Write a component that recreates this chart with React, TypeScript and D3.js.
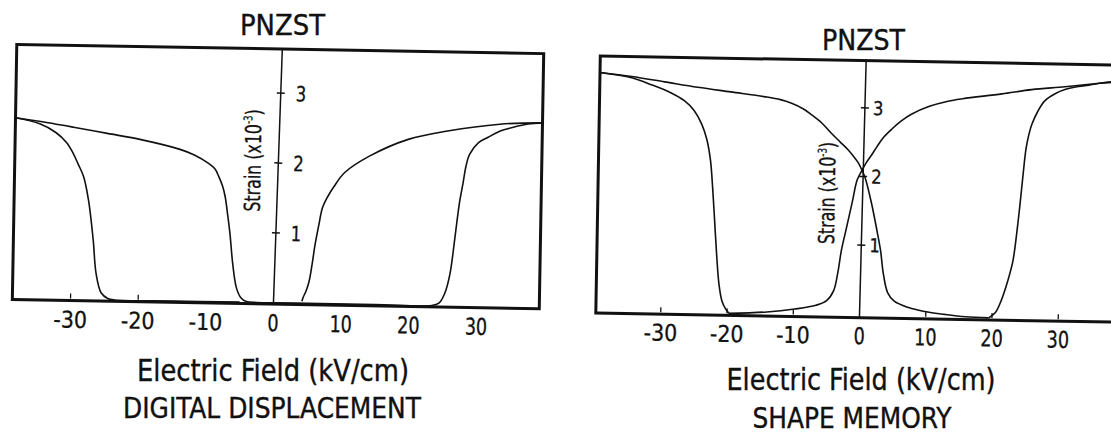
import React, { useEffect, useRef } from 'react';
import * as d3 from 'd3';

type Pt = [number, number];

// strain (x10^-3) against electric field (kV/cm)
// DIGITAL DISPLACEMENT panel
const ddEnvelopeNeg: Pt[] = [
  [-38.6, 2.58], [-34, 2.52], [-30, 2.46], [-25, 2.38], [-20, 2.3], [-14.2, 2.17], [-12, 2.09],
  [-10, 1.98], [-9, 1.9], [-8.4, 1.79], [-7.8, 1.65], [-7.4, 1.5], [-7.0, 1.25], [-6.6, 0.97],
  [-6.1, 0.53], [-5.5, 0.2], [-4.8, 0.06], [-4, 0.01], [-2.5, 0], [0, 0],
];
const ddLoopNeg: Pt[] = [
  [-38.6, 2.58], [-35, 2.5], [-32.6, 2.38], [-31, 2.24], [-30, 2.09], [-29.2, 1.93], [-28.4, 1.76],
  [-27.6, 1.42], [-26.8, 0.85], [-26.3, 0.38], [-25.5, 0.1], [-24.5, 0.02], [-23.5, 0], [-15, 0], [-5, 0],
];
const ddEnvelopePos: Pt[] = [
  [4.2, 0.03], [4.4, 0.09], [4.8, 0.18], [5.2, 0.31], [5.6, 0.55], [6.0, 0.84], [6.5, 1.12],
  [7.0, 1.37], [7.8, 1.54], [8.6, 1.67], [10.2, 1.88], [13.8, 2.12], [19.5, 2.37], [25.3, 2.5],
  [33, 2.61], [39.3, 2.64],
];
const ddLoopPos: Pt[] = [
  [39.3, 2.64], [37.2, 2.62], [35, 2.57], [33, 2.51], [31.3, 2.42], [29.9, 2.34], [28.6, 2.17],
  [28.1, 2.0], [27.7, 1.75], [27.3, 1.52], [26.9, 1.2], [26.6, 0.93], [26, 0.45], [25.3, 0.18],
  [24.5, 0.04], [23.4, 0], [15, 0], [5, 0], [0, 0],
];

// SHAPE MEMORY panel
const smDownRight: Pt[] = [
  [-39.8, 3.45], [-35, 3.4], [-30, 3.33], [-25, 3.26], [-20, 3.2], [-15, 3.14], [-12.5, 3.1],
  [-10.8, 3.05], [-9, 2.97], [-7.8, 2.89], [-6.2, 2.77], [-4.8, 2.63], [-3.4, 2.5], [-2.2, 2.39],
  [-1.3, 2.29], [-0.6, 2.2], [0, 2.09], [0.5, 1.98], [1.5, 1.62], [2.4, 1.22], [3.0, 0.93],
  [3.5, 0.58], [4.2, 0.31], [5.2, 0.19], [7.4, 0.1], [9.6, 0.05], [12.8, 0.01], [16, -0.02], [19.5, -0.03],
];
const smUpRight: Pt[] = [
  [19.5, -0.03], [20.5, 0.05], [21.4, 0.24], [22.3, 0.52], [23.0, 0.8], [23.5, 1.2], [23.9, 1.6],
  [24.3, 2.05], [24.7, 2.45], [25.1, 2.66], [25.5, 2.8], [26.4, 3.0], [27.4, 3.15], [29, 3.26],
  [30.4, 3.32], [32, 3.36], [34, 3.39], [35.6, 3.42], [38, 3.45], [40.5, 3.47],
];
const smDownLeft: Pt[] = [
  [40.5, 3.47], [37.7, 3.44], [35.6, 3.42], [30.4, 3.36], [25.4, 3.31], [20.9, 3.24], [15, 3.16],
  [12.8, 3.12], [10, 3.04], [7.3, 2.92], [5.8, 2.82], [4.4, 2.7], [3.2, 2.58], [2.2, 2.44],
  [1.3, 2.3], [0.6, 2.2], [0, 2.09], [-0.7, 1.95], [-1.4, 1.62], [-2.3, 1.2], [-2.9, 0.92],
  [-3.4, 0.58], [-4.0, 0.32], [-5.0, 0.18], [-6.6, 0.11], [-9.8, 0.05], [-14, 0.0], [-19.7, -0.03],
];
const smUpLeft: Pt[] = [
  [-19.7, -0.03], [-20.2, 0.03], [-20.8, 0.15], [-21.3, 0.4], [-21.7, 0.8], [-22.1, 1.3],
  [-22.5, 1.8], [-22.9, 2.2], [-23.5, 2.5], [-24.3, 2.72], [-25.5, 2.92], [-27, 3.06], [-29, 3.17],
  [-31.9, 3.28], [-35, 3.38], [-39.8, 3.45],
];

const xTicks = [-30, -20, -10, 0, 10, 20, 30];
const yTicks = [1, 2, 3];
const ddInnerTicks = [-30, -20];
const smInnerTicks = [-30, -20, -10, 10, 20, 30];

const FONT = '"Liberation Sans Narrow", "DejaVu Sans Condensed", "Liberation Sans", Arial, sans-serif';
const INK = '#111';

const panels = [
  {
    curves: [ddEnvelopeNeg, ddLoopNeg, ddEnvelopePos, ddLoopPos],
    innerTicks: ddInnerTicks,
    tilt: 1, cx: 278, cy: 178, axisTilt: 1,
    xDomain: [-38.6, 39.3], xRange: [14.5, 541.5],
    yDomain: [-0.06, 3.63], yRange: [307, 49],
    frameS: [-0.02, 3.63], axisBottom: 0,
    tickGap: 27, yLabelDx: 15, yLabelSize: 21,
    titleDx: -23, titleS: 2.03,
  },
  {
    curves: [smDownRight, smUpRight, smDownLeft, smUpLeft],
    innerTicks: smInnerTicks,
    tilt: 1, cx: 855, cy: 190, axisTilt: 0.5,
    xDomain: [-39.8, 40.5], xRange: [598, 1130],
    yDomain: [-0.06, 3.69], yRange: [317.6, 60.5],
    frameS: [-0.06, 3.69], axisBottom: -0.06,
    tickGap: 26.5, yLabelDx: 8, yLabelSize: 19,
    titleDx: -34.5, titleS: 1.75,
  },
];

const captions = [
  { text: 'PNZST', x: 282.5, y: 35, size: 28, len: 85 },
  { text: 'PNZST', x: 863.5, y: 50, size: 29, len: 83 },
  { text: 'Electric Field (kV/cm)', x: 273, y: 381, size: 30, len: 272 },
  { text: 'Electric Field (kV/cm)', x: 861, y: 390, size: 30, len: 269 },
  { text: 'DIGITAL DISPLACEMENT', x: 272, y: 418, size: 28, len: 298 },
  { text: 'SHAPE MEMORY', x: 852, y: 428, size: 28, len: 199 },
];

// condensed look for numbers: roughly 11px per glyph
const numWidth = (v: number, w: number) => String(v).length * w;

const App = () => {
  const svgRef = useRef<SVGSVGElement>(null);

  useEffect(() => {
    const svg = d3.select(svgRef.current);
    svg.selectAll('*').remove();

    svg.append('rect').attr('width', 1111).attr('height', 439).attr('fill', '#fff');

    panels.forEach(p => {
      const x = d3.scaleLinear().domain(p.xDomain).range(p.xRange);
      const y = d3.scaleLinear().domain(p.yDomain).range(p.yRange);
      const g = svg.append('g').attr('transform', `rotate(${p.tilt},${p.cx},${p.cy})`);

      const fx0 = x(p.xDomain[0]);
      const fx1 = x(p.xDomain[1]);
      const fyB = y(p.frameS[0]);
      const fyT = y(p.frameS[1]);

      // frame
      g.append('rect')
        .attr('x', fx0).attr('y', fyT)
        .attr('width', fx1 - fx0).attr('height', fyB - fyT)
        .attr('fill', 'none').attr('stroke', INK).attr('stroke-width', 3);

      // little ticks sitting on the bottom edge
      g.selectAll('.itick')
        .data(p.innerTicks)
        .enter()
        .append('line')
        .attr('x1', d => x(d)).attr('x2', d => x(d))
        .attr('y1', fyB - 2).attr('y2', fyB - 7)
        .attr('stroke', INK).attr('stroke-width', 1.3);

      // x tick labels
      g.selectAll('.xlab')
        .data(xTicks)
        .enter()
        .append('text')
        .attr('x', d => x(d))
        .attr('y', fyB + p.tickGap)
        .attr('text-anchor', 'middle')
        .attr('textLength', d => numWidth(d, 11.2))
        .attr('lengthAdjust', 'spacingAndGlyphs')
        .style('font-family', FONT)
        .attr('font-size', 23)
        .attr('fill', INK)
        .attr('stroke', INK)
        .attr('stroke-width', 0.3)
        .text(d => String(d));

      // strain curves
      const line = d3.line<Pt>()
        .x(d => x(d[0]))
        .y(d => y(d[1]))
        .curve(d3.curveCatmullRom.alpha(0.5));

      g.selectAll('.curve')
        .data(p.curves)
        .enter()
        .append('path')
        .attr('d', d => line(d))
        .attr('fill', 'none')
        .attr('stroke', INK)
        .attr('stroke-width', 1.6)
        .attr('stroke-linejoin', 'round');

      // y axis through E = 0
      const ax = g.append('g').attr('transform', `rotate(${p.axisTilt},${x(0)},${y(0)})`);
      ax.append('line')
        .attr('x1', x(0)).attr('x2', x(0))
        .attr('y1', fyT).attr('y2', y(p.axisBottom))
        .attr('stroke', INK).attr('stroke-width', 1.5);

      ax.selectAll('.ytick')
        .data(yTicks)
        .enter()
        .append('line')
        .attr('x1', x(0) - 4).attr('x2', x(0) + 4)
        .attr('y1', d => y(d)).attr('y2', d => y(d))
        .attr('stroke', INK).attr('stroke-width', 1.5);

      ax.selectAll('.ylab')
        .data(yTicks)
        .enter()
        .append('text')
        .attr('x', x(0) + p.yLabelDx)
        .attr('y', d => y(d))
        .attr('dy', '0.36em')
        .attr('textLength', 10.5)
        .attr('lengthAdjust', 'spacingAndGlyphs')
        .style('font-family', FONT)
        .attr('font-size', p.yLabelSize)
        .attr('fill', INK)
        .attr('stroke', INK)
        .attr('stroke-width', 0.3)
        .text(d => String(d));

      const tx = x(0) + p.titleDx;
      const ty = y(p.titleS);
      const title = g.append('text')
        .attr('transform', `translate(${tx},${ty}) rotate(-90) scale(0.8,1)`)
        .attr('text-anchor', 'middle')
        .attr('dy', '0.35em')
        .style('font-family', FONT)
        .attr('font-size', 22)
        .attr('fill', INK)
        .attr('stroke', INK)
        .attr('stroke-width', 0.3);
      title.append('tspan').text('Strain (x10');
      title.append('tspan').attr('font-size', 12).attr('dy', -9).text('-3');
      title.append('tspan').attr('dy', 9).text(')');
    });

    svg.selectAll('.caption')
      .data(captions)
      .enter()
      .append('text')
      .attr('x', d => d.x)
      .attr('y', d => d.y)
      .attr('text-anchor', 'middle')
      .attr('textLength', d => d.len)
      .attr('lengthAdjust', 'spacingAndGlyphs')
      .style('font-family', FONT)
      .attr('font-size', d => d.size)
      .attr('fill', INK)
      .attr('stroke', INK)
      .attr('stroke-width', 0.35)
      .text(d => d.text);
  }, []);

  return (
    <svg
      ref={svgRef}
      width={1111}
      height={439}
      style={{ position: 'absolute', left: 0, top: 0 }}
    />
  );
};

export default App;
